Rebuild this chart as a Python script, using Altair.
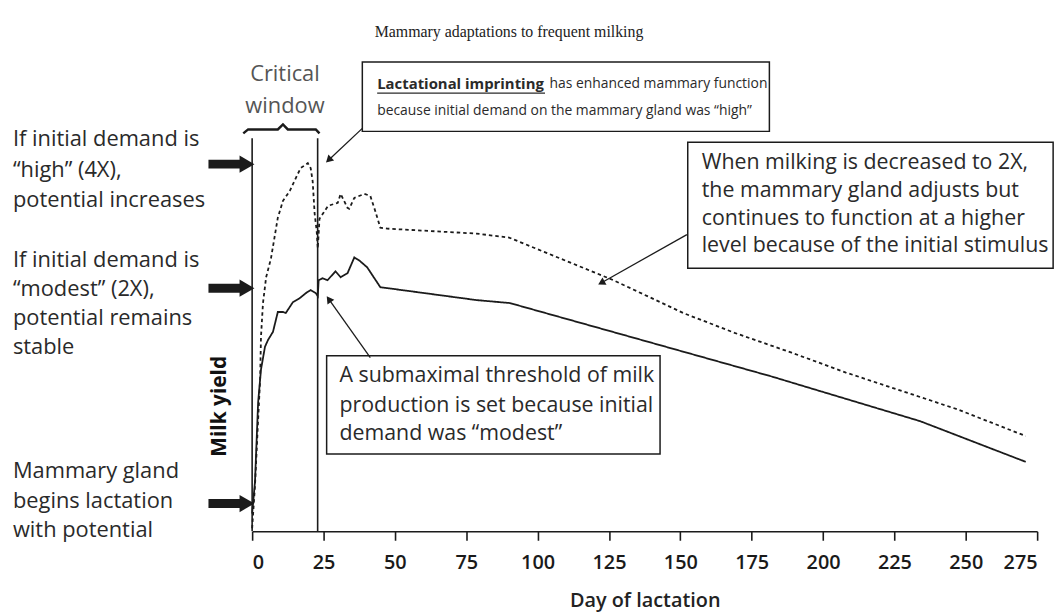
import math
import altair as alt
import pandas as pd

# ---------------- data ----------------
day_4x = [0, 1.0, 2.1, 2.8, 3.1, 3.8, 4.9, 6.6, 9.0, 10.8, 13.2, 15.3, 17.0, 19.5, 20.5,
          21.2, 21.9, 22.6, 23.0, 23.6, 25.0, 26.6, 30.0, 31.0, 33.4, 34.0, 35.8, 39.3,
          41.4, 43.1, 44.9, 47.3, 78.6, 90, 126.6, 151, 169, 189, 208, 247, 271]
yield_4x = [0.75, 11.5, 28.25, 38.25, 49, 57.5, 64, 68.75, 79, 83.25, 85.75, 89, 91.5,
            92.75, 91.5, 88.25, 80, 75.75, 71.25, 78.75, 80.25, 82, 82.75, 85, 81.5,
            81.25, 84, 85, 84.5, 80.75, 76.5, 76.25, 75, 74, 63.25, 55, 50, 45, 40,
            30.75, 24]

day_2x = [0, 1.0, 2.1, 3.1, 4.5, 5.6, 7.3, 9.0, 10.8, 11.8, 14.3, 16.7, 18.8, 20.5,
          22.3, 23.0, 23.3, 24.7, 26.4, 29.2, 31.0, 33.4, 35.8, 37.5, 40.3, 44.9, 78.6,
          90.3, 130, 182, 234, 271]
yield_2x = [4.5, 12.5, 32.5, 40.75, 46.5, 48.25, 50.25, 55.25, 55.25, 55, 57.75, 58.75,
            60, 60.75, 60, 59.25, 63.25, 63.75, 63.25, 65.5, 64, 65, 69, 68.25, 66.5,
            61.5, 58.25, 57.5, 49.5, 39, 27.75, 17.5]

x_ticks = [0, 25, 50, 75, 100, 125, 150, 175, 200, 225, 250, 275]
window_days = [0, 22.95]

title_text = "Mammary adaptations to frequent milking"
x_title = "Day  of lactation"
y_title = "Milk yield"

left_lines = ["If initial demand is", "\u201chigh\u201d (4X),", "potential increases",
              "If initial demand is", "\u201cmodest\u201d (2X),", "potential remains", "stable",
              "Mammary gland", "begins lactation", "with potential"]
box1_bold = "Lactational imprinting"
box1_rest = "has enhanced mammary function"
box1_line2 = "because initial demand on the mammary gland was \u201chigh\u201d"
box2_lines = ["When milking is decreased to 2X,", "the mammary gland adjusts but",
              "continues to function at a higher", "level because of  the initial stimulus"]
box3_lines = ["A submaximal threshold of milk", "production is set because initial",
              "demand was \u201cmodest\u201d"]
window_lines = ["Critical", "window"]

# ---------------- layout (annotation anchors in data units) ----------------
W, H = 791, 400
X_DOM, Y_DOM = [0, 275], [0, 100]
PX_DAY, PX_VAL = W / 275.0, H / 100.0
INK = "#1b1b1b"
TXT = "#2a2a2a"
SANS = "Open Sans"

XS = alt.Scale(domain=X_DOM, nice=False, zero=False)
YS = alt.Scale(domain=Y_DOM, nice=False, zero=False)
XAX = alt.Axis(values=x_ticks, format="d", title=None, grid=False)


def ex(f):
    return alt.X(f, type="quantitative", scale=XS, axis=XAX)


def ey(f):
    return alt.Y(f, type="quantitative", scale=YS, axis=None)


curves = pd.DataFrame(
    {"day": day_4x + day_2x,
     "milk": yield_4x + yield_2x,
     "series": ["4X"] * len(day_4x) + ["2X"] * len(day_2x),
     "i": list(range(len(day_4x))) + list(range(len(day_2x)))})

lines = alt.Chart(curves).mark_line(color=INK, strokeWidth=1.8).encode(
    x=ex("day"), y=ey("milk"),
    strokeDash=alt.StrokeDash("series:N", scale=alt.Scale(domain=["4X", "2X"], range=[[3.5, 3], [1, 0]]), legend=None),
    order="i:Q")

win = pd.DataFrame({"day": window_days, "y0": [0, 0], "y1": [99, 99]})
win_rules = alt.Chart(win).mark_rule(color=INK, strokeWidth=1.6).encode(
    x=ex("day"), y=ey("y0"), y2="y1")

boxes = pd.DataFrame({"x1": [38.6, 152.6, 26.1], "x2": [181.2, 280.6, 142.9],
                      "y1": [118.25, 98, 44.25], "y2": [100.75, 66.25, 19.5]})
box_marks = alt.Chart(boxes).mark_rect(fill="white", stroke=INK, strokeWidth=1.5).encode(
    x=ex("x1"), x2="x2", y=ey("y1"), y2="y2")


def text_layer(df, size, weight="normal", align="left", color=TXT, font=SANS, angle=0):
    return alt.Chart(df).mark_text(font=font, fontSize=size, fontWeight=weight, align=align,
                                   baseline="middle", color=color, angle=angle).encode(
        x=ex("day"), y=ey("val"), text="txt:N")


left_df = pd.DataFrame({"txt": left_lines, "day": [-83.8] * 10,
                        "val": [98.75, 91, 83.5, 68.25, 61, 53.75, 46.5, 15.25, 7.75, 0.25]})
box1_df = pd.DataFrame({"txt": [box1_rest, box1_line2], "day": [104.2, 43.8], "val": [112.75, 105.75]})
box1b_df = pd.DataFrame({"txt": [box1_bold], "day": [43.8], "val": [112.75]})
box2_df = pd.DataFrame({"txt": box2_lines, "day": [157.5] * 4, "val": [92.75, 85.75, 78.75, 71.75]})
box3_df = pd.DataFrame({"txt": box3_lines, "day": [30.6] * 3, "val": [39, 31.5, 24.5]})
win_df = pd.DataFrame({"txt": window_lines, "day": [11.5, 11.5], "val": [115.25, 107.25]})
title_df = pd.DataFrame({"txt": [title_text], "day": [90], "val": [125.75]})
xt_df = pd.DataFrame({"txt": [x_title], "day": [137.7], "val": [-17.5]})
yt_df = pd.DataFrame({"txt": [y_title], "day": [-11.1], "val": [31.5]})

underline = pd.DataFrame({"a": [43.8], "b": [102.6], "v": [110.4]})
under_mark = alt.Chart(underline).mark_rule(color=TXT, strokeWidth=1.3).encode(
    x=ex("a"), x2="b", y=ey("v"))

# thin annotation arrows: start (box edge) -> tip
arrows = pd.DataFrame({"d0": [38.6, 152.3, 41.4], "v0": [101.5, 74.75, 43.75],
                       "d1": [27.1, 122.7, 27.1], "v1": [93.75, 62.75, 58.25]})
arrows["ang"] = [
    (math.degrees(math.atan2((r.d1 - r.d0) * PX_DAY, (r.v1 - r.v0) * PX_VAL)) + 360) % 360
    for r in arrows.itertuples()]
arrow_lines = alt.Chart(arrows).mark_rule(color=INK, strokeWidth=1.3).encode(
    x=ex("d0"), x2="d1", y=ey("v0"), y2="v1")
arrow_heads = alt.Chart(arrows).mark_point(shape="triangle", filled=True, opacity=1, size=70, color=INK).encode(
    x=ex("d1"), y=ey("v1"), angle=alt.Angle("ang:Q", scale=None))

# thick arrows on the left
thick = pd.DataFrame({"d0": [-15.3] * 3, "d1": [-3.4] * 3, "tip": [-1.8] * 3, "v": [92.5, 61.25, 7.0]})
thick_lines = alt.Chart(thick).mark_rule(color=INK, strokeWidth=9).encode(
    x=ex("d0"), x2="d1", y=ey("v"))
thick_heads = alt.Chart(thick).mark_point(shape="triangle-right", filled=True, opacity=1, size=300, color=INK).encode(
    x=ex("tip"), y=ey("v"))

brace = pd.DataFrame({"day": [-3.1, -1.4, 9.0, 10.8, 12.5, 22.3, 23.6],
                      "val": [100.25, 101.25, 101.25, 102.5, 101.25, 101.25, 100.25],
                      "i": list(range(7))})
brace_mark = alt.Chart(brace).mark_line(color=INK, strokeWidth=2.5).encode(
    x=ex("day"), y=ey("val"), order="i:Q")

chart = alt.layer(
    lines, win_rules, brace_mark, box_marks, under_mark, arrow_lines, arrow_heads,
    thick_lines, thick_heads,
    text_layer(left_df, 22),
    text_layer(box1_df, 14),
    text_layer(box1b_df, 15, weight="bold"),
    text_layer(box2_df, 21.5),
    text_layer(box3_df, 21.5),
    text_layer(win_df, 22, align="center", color="#555555"),
    text_layer(title_df, 16, align="center", color="#222222", font="Liberation Serif"),
    text_layer(xt_df, 20, weight=600, align="center", color="#222222"),
    text_layer(yt_df, 21, weight="bold", align="center", color="#111111", angle=270),
).properties(
    width=W, height=H,
    autosize=alt.AutoSizeParams(type="none"),
    padding={"left": 246, "top": 125, "right": 19, "bottom": 82},
).configure_view(stroke=None).configure_axisX(
    domainColor=INK, domainWidth=1.6, tickColor=INK, tickWidth=1.6, tickSize=9,
    labelFont=SANS, labelFontSize=20, labelColor="#1a1a1a", labelPadding=12,
    labelFontWeight=600)

chart.save("out.html", embed_options={"renderer": "svg", "actions": False})
